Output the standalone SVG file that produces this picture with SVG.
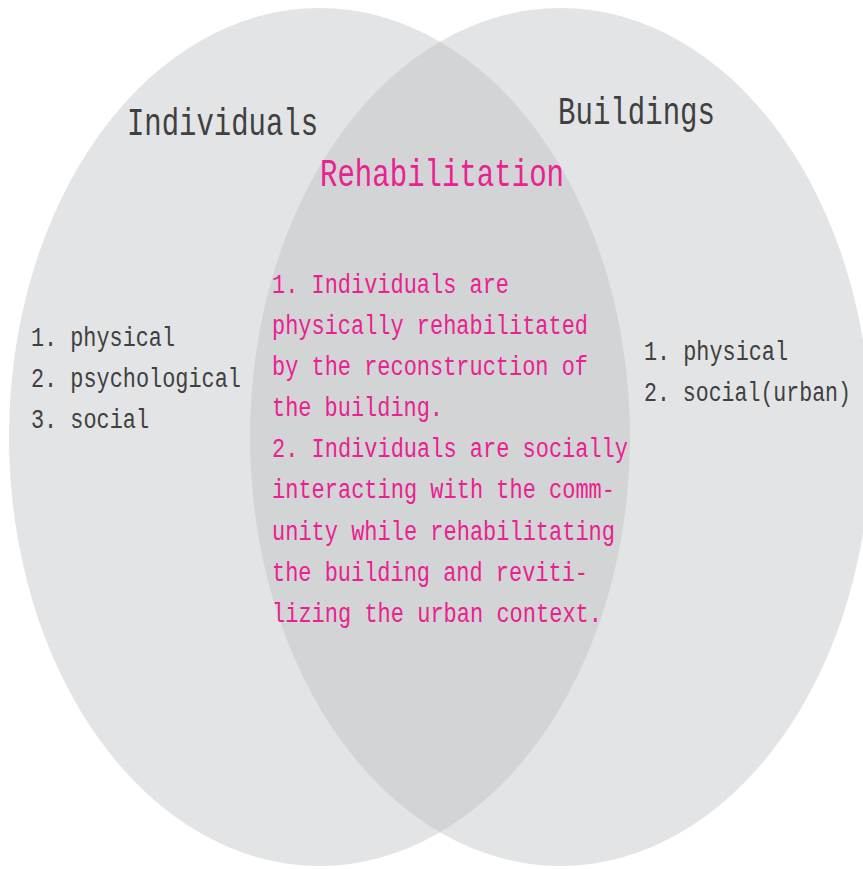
<svg xmlns="http://www.w3.org/2000/svg" width="863" height="869" viewBox="0 0 863 869">
  <style>
    .set { fill: #bcbdc0; fill-opacity: 0.41; }
    .t { font-family: "Liberation Mono", "DejaVu Sans Mono", monospace; }
    .big { font-size: 39px; }
    .small { font-size: 27px; }
    .ink { fill: #404040; }
    .pink { fill: #ea2190; }
  </style>
  <rect width="863" height="869" fill="#ffffff"/>

  <!-- Individuals set -->
  <g id="set-individuals">
    <ellipse class="set" cx="319.5" cy="437" rx="310.5" ry="429"/>
    <text class="t big ink" x="127" y="135" textLength="191" lengthAdjust="spacingAndGlyphs">Individuals</text>
    <text class="t small ink" x="31" y="346" textLength="144" lengthAdjust="spacingAndGlyphs">1. physical</text>
    <text class="t small ink" x="31" y="387" textLength="210" lengthAdjust="spacingAndGlyphs">2. psychological</text>
    <text class="t small ink" x="31" y="428" textLength="118" lengthAdjust="spacingAndGlyphs">3. social</text>
  </g>

  <!-- Buildings set -->
  <g id="set-buildings">
    <ellipse class="set" cx="560.5" cy="437" rx="310.5" ry="429"/>
    <text class="t big ink" x="558" y="124" textLength="157" lengthAdjust="spacingAndGlyphs">Buildings</text>
    <text class="t small ink" x="644" y="360" textLength="144" lengthAdjust="spacingAndGlyphs">1. physical</text>
    <text class="t small ink" x="644" y="401" textLength="207" lengthAdjust="spacingAndGlyphs">2. social(urban)</text>
  </g>

  <!-- Overlap: Rehabilitation -->
  <g id="overlap-rehabilitation">
    <text class="t big pink" x="320" y="186" textLength="244" lengthAdjust="spacingAndGlyphs">Rehabilitation</text>
    <text class="t small pink" x="272" y="293" textLength="237" lengthAdjust="spacingAndGlyphs">1. Individuals are</text>
    <text class="t small pink" x="272" y="334" textLength="316" lengthAdjust="spacingAndGlyphs">physically rehabilitated</text>
    <text class="t small pink" x="272" y="375" textLength="316" lengthAdjust="spacingAndGlyphs">by the reconstruction of</text>
    <text class="t small pink" x="272" y="416" textLength="171" lengthAdjust="spacingAndGlyphs">the building.</text>
    <text class="t small pink" x="272" y="457" textLength="356" lengthAdjust="spacingAndGlyphs">2. Individuals are socially</text>
    <text class="t small pink" x="272" y="498" textLength="343" lengthAdjust="spacingAndGlyphs">interacting with the comm-</text>
    <text class="t small pink" x="272" y="540" textLength="343" lengthAdjust="spacingAndGlyphs">unity while rehabilitating</text>
    <text class="t small pink" x="272" y="581" textLength="316" lengthAdjust="spacingAndGlyphs">the building and reviti-</text>
    <text class="t small pink" x="272" y="622" textLength="330" lengthAdjust="spacingAndGlyphs">lizing the urban context.</text>
  </g>
</svg>
